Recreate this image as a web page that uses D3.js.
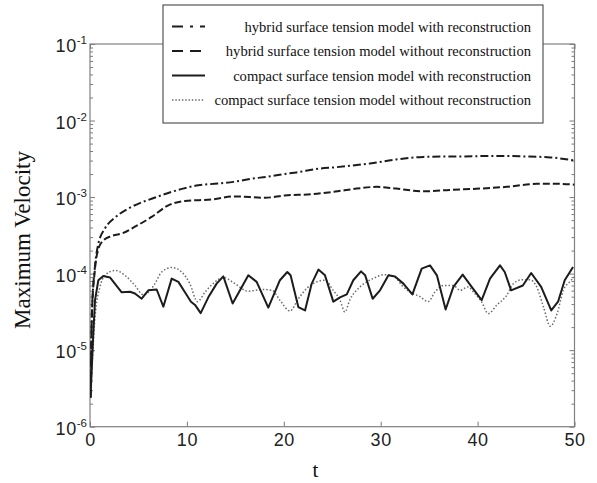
<!DOCTYPE html>
<html>
<head>
<meta charset="utf-8">
<script src="https://cdn.jsdelivr.net/npm/d3@7"></script>
<style>
  html, body { margin: 0; padding: 0; background: #fff; }
  svg { display: block; }
  .tick line { stroke: #7a7a7a; }
  .domain { display: none; }
</style>
</head>
<body>
<svg id="chart" width="597" height="483"></svg>
<script>
// Time samples and maximum velocity for each run
const tHybridRec = [0.05, 0.2, 0.5, 0.86, 1.55, 2.58, 3.96, 5.2, 6.36, 8.43, 9.6, 11.18, 13.2, 14.8, 16.7, 18.2, 20.1, 21.3, 23.6, 25.3, 28.9, 31.6, 34.4, 38.5, 42.0, 44.7, 47.5, 50];
const vHybridRec = [2.4e-6, 3e-5, 1.2e-4, 2.45e-4, 3.9e-4, 5.4e-4, 7.1e-4, 8.4e-4, 9.5e-4, 1.17e-3, 1.29e-3, 1.43e-3, 1.5e-3, 1.58e-3, 1.74e-3, 1.84e-3, 2.0e-3, 2.1e-3, 2.35e-3, 2.45e-3, 2.75e-3, 3.1e-3, 3.35e-3, 3.4e-3, 3.45e-3, 3.4e-3, 3.3e-3, 3.0e-3];

const tHybridNoRec = [0.05, 0.2, 0.5, 0.86, 1.37, 2.24, 3.44, 4.64, 6.36, 8.08, 9.8, 12.55, 14.96, 18.06, 20.1, 22.9, 25.3, 27.5, 29.6, 31.6, 34.4, 37.1, 40.2, 43.0, 46.1, 48.2, 50];
const vHybridNoRec = [2.4e-6, 3e-5, 1.1e-4, 2.1e-4, 2.7e-4, 3.1e-4, 3.4e-4, 4.1e-4, 5.5e-4, 7.8e-4, 8.9e-4, 9.3e-4, 1.02e-3, 9.8e-4, 1.05e-3, 1.09e-3, 1.18e-3, 1.29e-3, 1.36e-3, 1.29e-3, 1.19e-3, 1.24e-3, 1.29e-3, 1.36e-3, 1.49e-3, 1.49e-3, 1.45e-3];

const tCompactRec = [0.05, 0.34, 0.52, 0.86, 1.37, 2.06, 3.27, 4.13, 4.64, 5.33, 6.02, 6.88, 7.57, 8.43, 9.12, 9.8, 10.42, 10.84, 11.42, 12.21, 13.07, 13.76, 14.72, 15.48, 16.34, 17.2, 18.4, 19.6, 20.36, 20.7, 21.5, 22.19, 22.88, 23.57, 24.25, 25.11, 25.8, 26.5, 27.17, 27.97, 28.4, 29.17, 29.93, 30.8, 31.48, 32.34, 33.27, 34.23, 35.09, 35.8, 36.7, 37.5, 38.46, 39.39, 40.42, 41.28, 42.31, 42.8, 43.46, 44.67, 45.53, 46.56, 47.6, 48.3, 48.99, 49.85];
const vCompactRec = [2.4e-6, 1.65e-5, 4.5e-5, 8.2e-5, 9.3e-5, 8.9e-5, 5.7e-5, 5.8e-5, 5.5e-5, 4.7e-5, 6.05e-5, 6.2e-5, 3.7e-5, 8.6e-5, 7.8e-5, 5.7e-5, 4.3e-5, 3.9e-5, 3.05e-5, 4.9e-5, 7.4e-5, 9.2e-5, 4.07e-5, 6.05e-5, 9.5e-5, 7.8e-5, 3.6e-5, 8.2e-5, 1.05e-4, 9.5e-5, 3.66e-5, 3.3e-5, 7.4e-5, 1.13e-4, 9.5e-5, 4.3e-5, 4.9e-5, 5.35e-5, 8.2e-5, 1.07e-4, 9.5e-5, 4.7e-5, 6.05e-5, 9.5e-5, 9.2e-5, 7.4e-5, 5.35e-5, 1.16e-4, 1.28e-4, 9.5e-5, 3.4e-5, 6.7e-5, 9.7e-5, 6.7e-5, 4.5e-5, 8.6e-5, 1.28e-4, 1.05e-4, 6.05e-5, 7.0e-5, 1.02e-4, 6.7e-5, 3.3e-5, 4.3e-5, 8.2e-5, 1.22e-4];

const tCompactNoRec = [0.05, 0.52, 1.03, 1.55, 2.58, 3.61, 4.64, 5.5, 6.02, 6.7, 7.4, 8.43, 9.46, 10.3, 11.1, 11.86, 12.7, 13.76, 14.96, 16.3, 17.9, 18.8, 19.6, 20.64, 21.5, 22.36, 23.4, 24.25, 25.1, 25.8, 26.3, 26.8, 27.86, 29.2, 30.4, 31.5, 32.2, 33.0, 34.06, 34.9, 35.6, 36.5, 37.5, 38.2, 39.0, 39.7, 40.4, 41.1, 42.0, 43.0, 43.7, 44.54, 45.4, 46.1, 46.8, 47.5, 48.2, 48.85, 49.5, 50];
const vCompactNoRec = [2.4e-6, 2.7e-5, 6.7e-5, 9.5e-5, 1.1e-4, 9.5e-5, 7.0e-5, 5.3e-5, 5.7e-5, 7.4e-5, 1.05e-4, 1.2e-4, 1.05e-4, 7.4e-5, 4.3e-5, 5.7e-5, 7.4e-5, 8.9e-5, 7.4e-5, 5.9e-5, 6.2e-5, 6.05e-5, 4.5e-5, 3.25e-5, 4.7e-5, 6.4e-5, 7.8e-5, 8.2e-5, 6.05e-5, 4.5e-5, 3.15e-5, 4.5e-5, 6.7e-5, 8.6e-5, 9.7e-5, 8.9e-5, 7.0e-5, 5.75e-5, 5.0e-5, 4.3e-5, 5.75e-5, 7.0e-5, 7.0e-5, 6.05e-5, 6.7e-5, 5.5e-5, 4.3e-5, 3.0e-5, 3.9e-5, 5.2e-5, 7.4e-5, 8.3e-5, 8.3e-5, 6.7e-5, 3.66e-5, 2.05e-5, 3.0e-5, 6.05e-5, 7.8e-5, 9.0e-5];

const legendLabels = [
  "hybrid surface tension model with reconstruction",
  "hybrid surface tension model without reconstruction",
  "compact surface tension model with reconstruction",
  "compact surface tension model without reconstruction"
];
const xTicks = [0, 10, 20, 30, 40, 50];
const yExponents = [-6, -5, -4, -3, -2, -1];
const xLabel = "t";
const yLabel = "Maximum Velocity";

const svg = d3.select("#chart");
const x = d3.scaleLinear().domain([0, 50]).range([90, 574.5]);
const y = d3.scaleLog().domain([1e-6, 1e-1]).range([426.7, 44]);

const yMajor = yExponents.map(e => Math.pow(10, e));
const yMinor = [];
yExponents.slice(0, -1).forEach(e => {
  for (let k = 2; k <= 9; k++) yMinor.push(k * Math.pow(10, e));
});

const tickFont = "'Liberation Sans', Arial, sans-serif";
const serifFont = "'Liberation Serif', 'Times New Roman', serif";

// Frame ticks, pointing inward on all four sides
svg.append("g").attr("transform", `translate(0,${y.range()[0]})`)
  .call(d3.axisBottom(x).tickValues(xTicks).tickSizeInner(-5).tickSizeOuter(0).tickPadding(7))
  .call(g => g.selectAll("text").attr("font-family", tickFont).attr("font-size", 18)
    .attr("letter-spacing", 0.6).attr("fill", "#222"));
svg.append("g").attr("transform", `translate(0,${y.range()[1]})`)
  .call(d3.axisTop(x).tickValues(xTicks).tickSizeInner(-5).tickSizeOuter(0).tickFormat(() => ""));

const leftG = svg.append("g").attr("transform", `translate(${x.range()[0]},0)`);
leftG.call(d3.axisLeft(y).tickValues(yMajor).tickSizeInner(-5).tickSizeOuter(0).tickFormat(() => ""));
leftG.append("g").call(d3.axisLeft(y).tickValues(yMinor).tickSizeInner(-3).tickSizeOuter(0).tickFormat(() => ""));
leftG.selectAll(".tick").filter(d => yMajor.includes(d)).each(function (d) {
  const t = d3.select(this).append("text")
    .attr("x", -3).attr("y", 7.5)
    .attr("text-anchor", "end")
    .attr("font-family", tickFont).attr("font-size", 18).attr("fill", "#222");
  t.append("tspan").attr("letter-spacing", 0.6).text("10");
  t.append("tspan").attr("font-size", 11.5).attr("dy", -8).text(String(Math.round(Math.log10(d))));
});

const rightG = svg.append("g").attr("transform", `translate(${x.range()[1]},0)`);
rightG.call(d3.axisRight(y).tickValues(yMajor).tickSizeInner(-5).tickSizeOuter(0).tickFormat(() => ""));
rightG.append("g").call(d3.axisRight(y).tickValues(yMinor).tickSizeInner(-3).tickSizeOuter(0).tickFormat(() => ""));

// Plot frame
svg.append("rect")
  .attr("x", x.range()[0]).attr("y", y.range()[1])
  .attr("width", x.range()[1] - x.range()[0]).attr("height", y.range()[0] - y.range()[1])
  .attr("fill", "none").attr("stroke", "#808080").attr("stroke-width", 1.2);

// Curves
svg.append("clipPath").attr("id", "plotArea").append("rect")
  .attr("x", x.range()[0]).attr("y", y.range()[1])
  .attr("width", x.range()[1] - x.range()[0]).attr("height", y.range()[0] - y.range()[1]);

const series = [
  { t: tHybridRec, v: vHybridRec, curve: d3.curveMonotoneX, stroke: "#1c1c1c", width: 2, dash: "8,3,2,3", legendDash: "11,7,3,7" },
  { t: tHybridNoRec, v: vHybridNoRec, curve: d3.curveMonotoneX, stroke: "#1c1c1c", width: 2, dash: "7,3", legendDash: "11,7" },
  { t: tCompactRec, v: vCompactRec, curve: d3.curveLinear, stroke: "#1c1c1c", width: 2, dash: null, legendDash: null },
  { t: tCompactNoRec, v: vCompactNoRec, curve: d3.curveMonotoneX, stroke: "#6a6a6a", width: 1.5, dash: "1.5,2", legendDash: "1.5,1.8" }
];

const plot = svg.append("g").attr("clip-path", "url(#plotArea)");
series.slice().reverse().forEach(s => {
  const pts = s.t.map((t, i) => [t, s.v[i]]);
  plot.append("path")
    .datum(pts)
    .attr("fill", "none")
    .attr("stroke", s.stroke)
    .attr("stroke-width", s.width)
    .attr("stroke-dasharray", s.dash)
    .attr("stroke-linejoin", "round")
    .attr("d", d3.line().x(d => x(d[0])).y(d => y(d[1])).curve(s.curve));
});

// Axis titles
svg.append("text")
  .attr("x", 315.5).attr("y", 477)
  .attr("text-anchor", "middle")
  .attr("font-family", serifFont).attr("font-size", 21).attr("fill", "#111")
  .text(xLabel);
svg.append("text")
  .attr("transform", "translate(30,240) rotate(-90)")
  .attr("text-anchor", "middle")
  .attr("font-family", serifFont).attr("font-size", 23).attr("fill", "#111")
  .text(yLabel);

// Legend
const legend = svg.append("g");
legend.append("rect")
  .attr("x", 163).attr("y", 5).attr("width", 380).attr("height", 118)
  .attr("fill", "#fff").attr("stroke", "#555").attr("stroke-width", 1.2);
legendLabels.forEach((label, i) => {
  const s = series[i];
  const base = 31.5 + i * 24.5;
  legend.append("line")
    .attr("x1", 172).attr("x2", 205)
    .attr("y1", base - 5).attr("y2", base - 5)
    .attr("stroke", s.stroke).attr("stroke-width", s.width)
    .attr("stroke-dasharray", s.legendDash);
  legend.append("text")
    .attr("x", 531).attr("y", base)
    .attr("text-anchor", "end")
    .attr("font-family", serifFont).attr("font-size", 14.6).attr("fill", "#111")
    .text(label);
});
</script>
</body>
</html>
